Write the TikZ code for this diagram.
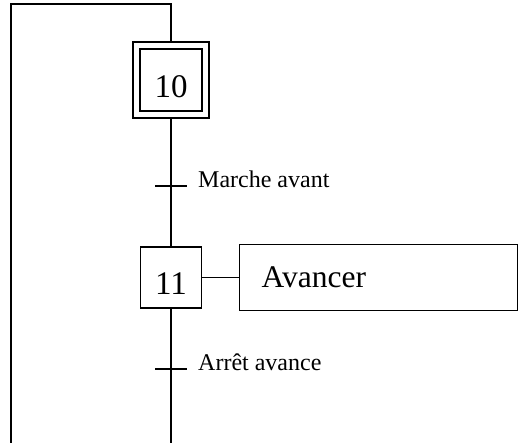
\documentclass[tikz,border=0pt]{standalone}
\usepackage{fontspec}
\setmainfont{Liberation Serif}
\usetikzlibrary{positioning}

\begin{document}
\begin{tikzpicture}[
    x=1pt, y=-1pt,
    stepbox/.style={draw, line width=1.3pt, minimum size=61pt, inner sep=0pt, text height=35pt, text depth=0pt, font=\fontsize{33}{36}\selectfont},
    initstep/.style={stepbox, minimum size=69pt, double, double distance=5.7pt, outer sep=4pt},
    actbox/.style={draw, line width=1.3pt, minimum height=66pt, text width=234pt, inner xsep=22pt, align=left, font=\fontsize{31.5}{35}\selectfont},
    link/.style={line width=1.3pt},
    tick/.style={line width=1.3pt},
    cond/.style={font=\fontsize{24}{27}\selectfont, inner sep=0pt, anchor=base west}
]
    \useasboundingbox (0,0) rectangle (520,443);

    \node[initstep] (s10) at (171,80) {10};
    \node[stepbox] (s11) at (171,277.5) {11};
    \node[actbox, anchor=west] (act) at (239,277.5) {Avancer};

    \coordinate (loopTop) at (171,4);
    \coordinate (loopCorner) at (11,4);
    \coordinate (loopEnd) at (11,443);
    \coordinate (outEnd) at (171,443);
    \coordinate (t1) at (171,186);
    \coordinate (t2) at (171,369);

    \draw[link] (s10.north) -- (loopTop) -- (loopCorner) -- (loopEnd);
    \draw[link] (s10.south) -- (s11.north);
    \draw[link] (s11.south) -- (outEnd);
    \draw[link] (s11.east) -- (act.west);

    % transitions
    \draw[tick] ([xshift=-16pt]t1) -- ([xshift=16pt]t1);
    \draw[tick] ([xshift=-16pt]t2) -- ([xshift=16pt]t2);
    \node[cond] (c1) at (198,188) {Marche avant};
    \node[cond] (c2) at (198,371) {Arrêt avance};
\end{tikzpicture}
\end{document}
